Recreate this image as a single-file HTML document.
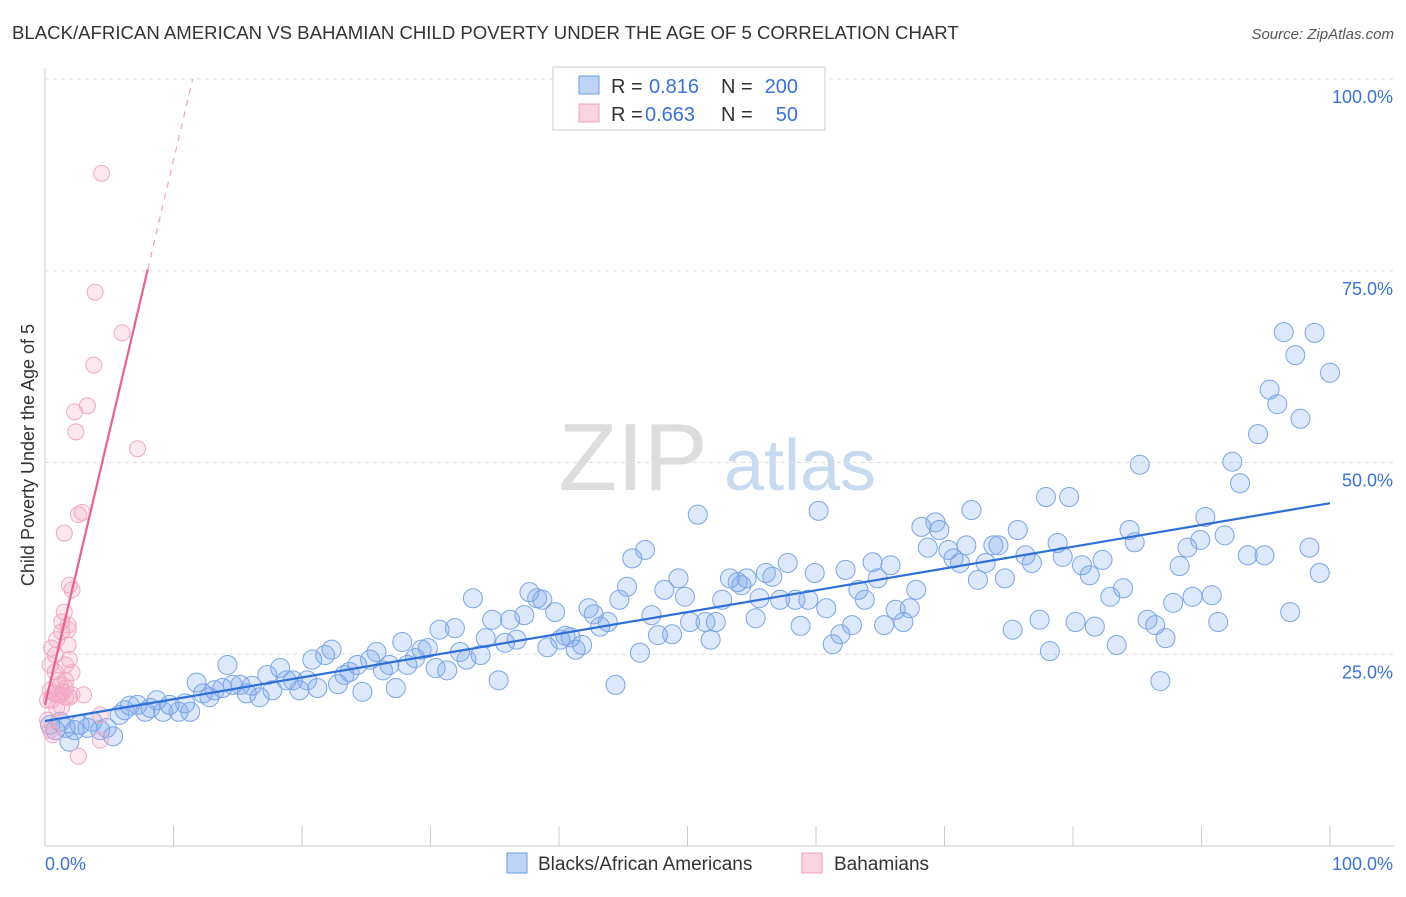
<!DOCTYPE html>
<html><head><meta charset="utf-8"><style>
body{margin:0;background:#fff;font-family:"Liberation Sans",sans-serif}
svg text{font-family:"Liberation Sans",sans-serif}
</style></head><body>
<svg id="chart" width="1406" height="892">
<text x="12" y="39" font-size="18.6" fill="#333">BLACK/AFRICAN AMERICAN VS BAHAMIAN CHILD POVERTY UNDER THE AGE OF 5 CORRELATION CHART</text>
<text x="1394" y="39" font-size="15" fill="#555" font-style="italic" text-anchor="end">Source: ZipAtlas.com</text>
<g><text x="633" y="490" font-size="96" fill="#ddd" font-family="Liberation Serif,serif" text-anchor="middle">ZIP</text><text x="800" y="490" font-size="72" fill="#c8daf0" text-anchor="middle">atlas</text></g>
<g id="grid"></g><g id="axes"></g><g id="pts"></g><g id="lines"></g>
<text transform="translate(34,455) rotate(-90)" font-size="18" fill="#333" text-anchor="middle">Child Poverty Under the Age of 5</text>
<g>
<rect x="553" y="67" width="272" height="63" fill="#fff" stroke="#ccc"/>
<rect x="579" y="76" width="20" height="18" fill="rgba(110,160,235,0.45)" stroke="#6a9be0"/>
<text x="611" y="93" font-size="20" fill="#333">R =</text><text x="649" y="93" font-size="20" fill="#3a72d8">0.816</text>
<text x="721" y="93" font-size="20" fill="#333">N =</text><text x="798" y="93" font-size="20" fill="#3a72d8" text-anchor="end">200</text>
<rect x="579" y="104" width="20" height="18" fill="rgba(245,160,190,0.45)" stroke="#f0a0bc"/>
<text x="611" y="121" font-size="20" fill="#333">R =</text><text x="645" y="121" font-size="20" fill="#3a72d8">0.663</text>
<text x="721" y="121" font-size="20" fill="#333">N =</text><text x="798" y="121" font-size="20" fill="#3a72d8" text-anchor="end">50</text>
</g>
<g>
<rect x="507" y="853" width="20" height="20" fill="rgba(110,160,235,0.45)" stroke="#6a9be0"/>
<text x="538" y="870" font-size="19" fill="#333">Blacks/African Americans</text>
<rect x="802" y="853" width="20" height="20" fill="rgba(245,160,190,0.45)" stroke="#f0a0bc"/>
<text x="834" y="870" font-size="19" fill="#333">Bahamians</text>
</g>
</svg>
<script>
const yTicks=[25,50,75,100];
const xTickVals=[0,10,20,30,40,50,60,70,80,90,100];
const blueX=[0.4,0.8,1.2,1.6,1.9,2.3,2.7,3.3,3.7,4.3,4.8,5.3,5.8,6.2,6.6,7.2,7.8,8.2,8.7,9.2,9.7,10.4,10.9,11.3,11.8,12.3,12.8,13.2,13.8,14.2,14.6,15.2,15.7,16.1,16.7,17.3,17.7,18.3,18.8,19.3,19.8,20.4,20.8,21.2,21.8,22.3,22.8,23.3,23.7,24.3,24.7,25.3,25.8,26.3,26.8,27.3,27.8,28.2,28.8,29.3,29.8,30.4,30.7,31.3,31.9,32.3,32.8,33.3,33.9,34.3,34.8,35.3,35.8,36.2,36.7,37.3,37.7,38.3,38.7,39.1,39.7,40.1,40.5,40.9,41.3,41.8,42.3,42.7,43.2,43.8,44.4,44.7,45.3,45.7,46.3,46.7,47.2,47.7,48.2,48.8,49.3,49.8,50.2,50.8,51.4,51.8,52.2,52.7,53.3,53.9,54.2,54.6,55.3,55.6,56.1,56.6,57.2,57.8,58.4,58.8,59.4,59.9,60.2,60.8,61.3,61.9,62.3,62.8,63.3,63.8,64.4,64.8,65.3,65.8,66.2,66.8,67.3,67.8,68.2,68.7,69.3,69.6,70.3,70.7,71.2,71.7,72.1,72.6,73.2,73.8,74.2,74.7,75.3,75.7,76.3,76.8,77.4,77.9,78.2,78.8,79.2,79.7,80.2,80.7,81.3,81.7,82.3,82.9,83.4,83.9,84.4,84.8,85.2,85.8,86.4,86.8,87.2,87.8,88.3,88.9,89.3,89.9,90.3,90.8,91.3,91.8,92.4,93.0,93.6,94.4,94.9,95.3,95.9,96.4,96.9,97.3,97.7,98.4,98.8,99.2,100.0];
const blueY=[15.8,15.1,16.2,15.4,13.6,15.1,15.8,15.4,16.2,15.1,15.4,14.3,17.1,17.7,18.3,18.4,17.5,18.0,19.0,17.5,18.4,17.5,18.6,17.5,21.3,19.9,19.4,20.3,20.6,23.6,21.0,21.0,19.9,20.9,19.4,22.3,20.3,23.2,21.6,21.6,20.3,21.6,24.3,20.6,24.9,25.6,21.1,22.3,22.7,23.6,20.1,24.3,25.3,22.9,23.6,20.6,26.6,23.6,24.5,25.6,25.8,23.2,28.2,22.9,28.4,25.3,24.3,32.3,24.9,27.1,29.5,21.6,26.5,29.5,26.9,30.1,33.1,32.3,32.1,25.9,30.5,26.9,27.4,27.2,25.6,26.2,31.0,30.2,28.6,29.2,21.0,32.1,33.8,37.5,25.2,38.6,30.1,27.5,33.4,27.6,34.9,32.5,29.2,43.2,29.2,26.9,29.2,32.1,34.9,34.4,34.0,34.9,29.7,32.3,35.6,35.1,32.1,36.9,32.1,28.7,32.1,35.6,43.7,31.0,26.3,27.6,36.0,28.8,33.4,32.1,37.0,34.9,28.8,36.6,30.8,29.2,31.0,33.4,41.6,38.9,42.2,41.2,38.6,37.5,36.9,39.2,43.8,34.7,36.9,39.2,39.2,34.9,28.2,41.2,37.9,36.9,29.5,45.5,25.4,39.5,37.7,45.5,29.2,36.6,35.3,28.6,37.3,32.5,26.2,33.6,41.2,39.6,49.7,29.5,28.8,21.5,27.1,31.7,36.5,38.9,32.5,39.9,42.9,32.7,29.2,40.5,50.1,47.3,37.9,53.7,37.9,59.5,57.6,67.0,30.5,64.0,55.7,38.9,66.9,35.6,61.7];
const pinkX=[0.4,0.5,0.2,0.4,0.6,0.8,0.8,0.9,1.0,1.2,1.3,1.3,1.4,1.5,1.6,1.6,1.8,1.8,1.9,1.9,2.1,2.1,2.3,2.4,2.6,1.5,2.9,3.0,3.3,3.8,3.9,4.4,6.0,7.2,4.3,2.6,1.2,1.3,0.9,1.6,1.8,0.5,0.4,1.0,2.1,4.3,0.2,0.7,1.9,1.6];
const pinkY=[20.3,19.0,16.4,15.1,14.5,22.7,24.9,26.9,19.7,19.7,29.2,27.9,20.1,30.5,23.6,21.6,26.2,28.2,24.3,34.0,33.4,19.7,56.6,54.0,43.2,40.8,43.5,19.7,57.4,62.7,72.2,87.7,66.9,51.8,17.1,11.7,21.0,18.1,18.0,19.4,28.8,25.8,23.6,21.6,22.6,13.8,19.0,19.9,19.4,20.6];
const blueFit=[16.3,44.7];
const pinkFit=[18.4,7.1];
const X0=45,X1=1330,Y0=846,Y100=79;
const xs=v=>X0+(X1-X0)*v/100, ys=v=>Y0-(Y0-Y100)*v/100;
const NS='http://www.w3.org/2000/svg';
function mk(p,t,a){const e=document.createElementNS(NS,t);for(const k in a)e.setAttribute(k,a[k]);p.appendChild(e);return e;}
const grid=document.getElementById('grid'),axes=document.getElementById('axes'),pts=document.getElementById('pts'),lines=document.getElementById('lines');
yTicks.forEach(t=>{
 const l=mk(grid,'line',{x1:X0,x2:1394,y1:ys(t),y2:ys(t),stroke:'#ddd','stroke-dasharray':'4,4'});
 
 
 const tx=mk(grid,'text',{x:1393,y:ys(t)+24,'font-size':18,fill:'#3a72d8','text-anchor':'end'});tx.textContent=t.toFixed(1)+'%';
 
 
});
const ax=mk(axes,'line',{x1:X0,x2:1394,y1:Y0,y2:Y0,stroke:'#ccc'});


const ay=mk(axes,'line',{x1:X0,x2:X0,y1:68,y2:Y0,stroke:'#ccc'});


xTickVals.forEach(t=>{const l=mk(axes,'line',{x1:xs(t),x2:xs(t),y1:826,y2:Y0,stroke:'#ccc'});
 
 });
[[0,'0.0%','start',45],[100,'100.0%','end',1393]].forEach(([v,s,a,x])=>{const t=mk(axes,'text',{x:x,y:870,'font-size':18,fill:'#3a72d8','text-anchor':a});t.textContent=s;
 
 });
blueX.forEach((x,i)=>{const c=mk(pts,'circle',{cx:xs(x),cy:ys(blueY[i]),r:9.5,fill:'rgba(120,165,235,0.25)',stroke:'#7aa6e6','stroke-width':1});
 
 });
pinkX.forEach((x,i)=>{const c=mk(pts,'circle',{cx:xs(x),cy:ys(pinkY[i]),r:8,fill:'rgba(245,165,195,0.25)',stroke:'#f3a8c2','stroke-width':1});
 
 });
const bl=mk(lines,'line',{x1:xs(0),y1:ys(blueFit[0]),x2:xs(100),y2:ys(blueFit[1]),stroke:'#2f6fd8','stroke-width':2.2});


const pEnd=8,pTop=(100-pinkFit[0])/pinkFit[1];
const pl=mk(lines,'line',{x1:xs(0),y1:ys(pinkFit[0]),x2:xs(pEnd),y2:ys(pinkFit[0]+pinkFit[1]*pEnd),stroke:'#e8608e','stroke-width':2.2});


const pd=mk(lines,'line',{x1:xs(pEnd),y1:ys(pinkFit[0]+pinkFit[1]*pEnd),x2:xs(pTop),y2:ys(100),stroke:'#f0a0bc','stroke-width':1.2,'stroke-dasharray':'6,6'});


</script>
</body></html>
